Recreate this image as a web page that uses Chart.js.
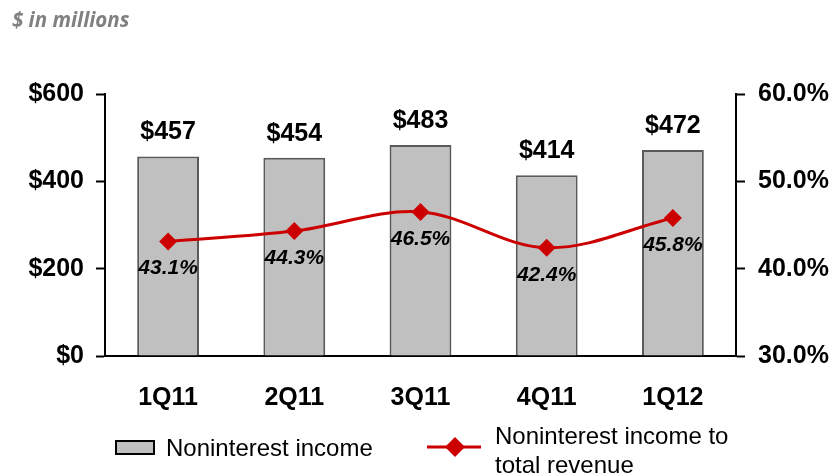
<!DOCTYPE html>
<html>
<head>
<meta charset="utf-8">
<script src="https://cdn.jsdelivr.net/npm/chart.js@4.4.1/dist/chart.umd.min.js"></script>
<style>
  html, body { margin: 0; padding: 0; background: #fff; }
  #wrap { position: relative; width: 837px; height: 475px; overflow: hidden; }
  #c { position: absolute; left: 0; top: 0; }
  .title { position: absolute; left: 12px; top: 5px; font: italic bold 20.5px "Open Sans", sans-serif; color: #808080; white-space: nowrap; }
  .leg { position: absolute; font: 24px "Liberation Sans", Arial, sans-serif; color: #000; white-space: nowrap; line-height: 29px; }
  .box { position: absolute; left: 115px; top: 440px; width: 36px; height: 11px; background: #c0c0c0; border: 2px solid #000; }
</style>
</head>
<body>
<div id="wrap">
  <canvas id="c" width="837" height="475"></canvas>
  <div class="title">$ in millions</div>
  <div class="box"></div>
  <div class="leg" style="left:166px; top:433px;">Noninterest income</div>
  <canvas id="lg" width="56" height="24" style="position:absolute; left:426px; top:435px;"></canvas>
  <div class="leg" style="left:495px; top:421px;">Noninterest income to<br>total revenue</div>
</div>
<script>
const categories = ["1Q11", "2Q11", "3Q11", "4Q11", "1Q12"];
const noninterestIncome = [457, 454, 483, 414, 472];
const ratioToRevenue = [43.1, 44.3, 46.5, 42.4, 45.8];
const leftTicks = [0, 200, 400, 600];
const rightTicks = [30, 40, 50, 60];

const RED = '#cc0000';

// legend line marker
(function(){
  const g = document.getElementById('lg').getContext('2d');
  g.strokeStyle = RED; g.lineWidth = 3;
  g.beginPath(); g.moveTo(1, 12); g.lineTo(55, 12); g.stroke();
  g.fillStyle = RED; g.beginPath();
  g.moveTo(29, 2); g.lineTo(39, 12); g.lineTo(29, 22); g.lineTo(19, 12); g.closePath(); g.fill();
})();

const labelPlugin = {
  id: 'labels',
  afterDatasetsDraw(chart) {
    const ctx = chart.ctx;
    ctx.save();
    const barMeta = chart.getDatasetMeta(0);
    ctx.fillStyle = '#000';
    ctx.font = 'bold 25px "Liberation Sans", Arial, sans-serif';
    ctx.textAlign = 'center';
    ctx.textBaseline = 'alphabetic';
    barMeta.data.forEach((el, i) => {
      ctx.fillText('$' + noninterestIncome[i], el.x, el.y - 17);
    });
    const lineMeta = chart.getDatasetMeta(1);
    ctx.font = 'italic bold 21px "Liberation Sans", Arial, sans-serif';
    ctx.textBaseline = 'middle';
    lineMeta.data.forEach((el, i) => {
      ctx.fillText(ratioToRevenue[i].toFixed(1) + '%', el.x, el.y + 27);
    });
    ctx.restore();
  }
};

new Chart(document.getElementById('c'), {
  data: {
    labels: categories,
    datasets: [
      {
        type: 'bar',
        data: noninterestIncome,
        yAxisID: 'y',
        backgroundColor: '#c0c0c0',
        borderColor: '#595959',
        borderWidth: 2,
        categoryPercentage: 1.0,
        barPercentage: 0.49,
        order: 2
      },
      {
        type: 'line',
        data: ratioToRevenue,
        yAxisID: 'y1',
        borderColor: RED,
        backgroundColor: RED,
        borderWidth: 3,
        pointStyle: 'rectRot',
        pointRadius: 9,
        pointBorderWidth: 0,
        pointBackgroundColor: RED,
        tension: 0.35,
        order: 1
      }
    ]
  },
  options: {
    responsive: false,
    animation: false,
    layout: { padding: { top: 94, left: 0, right: 0, bottom: 0 } },
    plugins: { legend: { display: false }, tooltip: { enabled: false } },
    scales: {
      x: {
        grid: { display: false, drawTicks: false },
        border: { display: true, color: '#000', width: 2 },
        ticks: { color: '#000', font: { family: '"Liberation Sans", Arial', size: 25, weight: 'bold' }, padding: 27 },
        afterFit(s) { s.height = 119; }
      },
      y: {
        position: 'left',
        min: 0, max: 600,
        afterBuildTicks(s) { s.ticks = leftTicks.map(v => ({ value: v })); },
        grid: { drawOnChartArea: false, drawTicks: true, tickLength: 9, color: '#000', tickWidth: 2 },
        border: { display: true, color: '#000', width: 2 },
        ticks: { color: '#000', font: { family: '"Liberation Sans", Arial', size: 25, weight: 'bold' }, padding: 12, callback: v => '$' + v },
        afterFit(s) { s.width = 105; }
      },
      y1: {
        position: 'right',
        min: 30, max: 60,
        afterBuildTicks(s) { s.ticks = rightTicks.map(v => ({ value: v })); },
        grid: { drawOnChartArea: false, drawTicks: true, tickLength: 9, color: '#000', tickWidth: 2 },
        border: { display: true, color: '#000', width: 2 },
        ticks: { color: '#000', font: { family: '"Liberation Sans", Arial', size: 25, weight: 'bold' }, padding: 13, callback: v => v.toFixed(1) + '%' },
        afterFit(s) { s.width = 101; }
      }
    }
  },
  plugins: [labelPlugin]
});
</script>
</body>
</html>
